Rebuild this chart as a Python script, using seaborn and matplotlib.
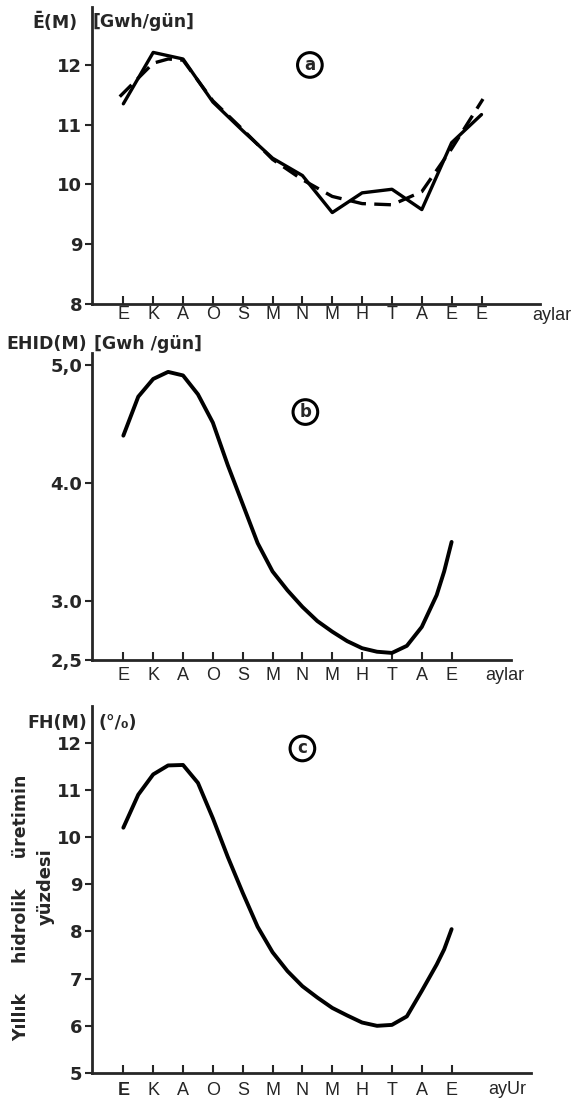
import matplotlib
matplotlib.use('Agg')
import matplotlib.pyplot as plt
import seaborn as sns
import pandas as pd

# ay harfleri (Ekim'den Ekim'e)
months_a = ['E', 'K', 'A', 'O', 'S', 'M', 'N', 'M', 'H', 'T', 'A', 'E', 'E']
months_bc = ['E', 'K', 'A', 'O', 'S', 'M', 'N', 'M', 'H', 'T', 'A', 'E']

# (a) Ē(M) - olculen (duz) ve yaklasik (kesikli)
pos_a = [1, 2, 3, 4, 5, 6, 7, 8, 9, 10, 11, 12, 13]
e_solid = [11.35, 12.21, 12.10, 11.38, 10.90, 10.44, 10.15, 9.53, 9.86, 9.92, 9.58, 10.70, 11.17]
pos_dash = [0.88, 2, 2.5, 3, 4, 5, 6, 7, 8, 9, 10, 11, 12, 13.05]
e_dash = [11.47, 12.03, 12.10, 12.08, 11.40, 10.92, 10.42, 10.08, 9.80, 9.68, 9.66, 9.88, 10.60, 11.43]

# (b) EHID(M) ve (c) FH(M), yarim ay araliklarinda okunan degerler
pos_bc = [1, 1.5, 2, 2.5, 3, 3.5, 4, 4.5, 5, 5.5, 6, 6.5, 7, 7.5, 8, 8.5,
          9, 9.5, 10, 10.5, 11, 11.5, 11.75, 12]
ehid = [4.40, 4.73, 4.88, 4.94, 4.91, 4.75, 4.51, 4.15, 3.82, 3.49, 3.25, 3.09,
        2.95, 2.83, 2.74, 2.66, 2.60, 2.57, 2.56, 2.62, 2.78, 3.05, 3.25, 3.50]
fh = [10.20, 10.90, 11.33, 11.52, 11.53, 11.15, 10.40, 9.58, 8.82, 8.10, 7.56, 7.16,
      6.84, 6.60, 6.38, 6.22, 6.07, 6.00, 6.02, 6.20, 6.74, 7.30, 7.62, 8.05]

sns.set_style('ticks')
plt.rcParams['font.family'] = ['DejaVu Sans']

fig = plt.figure(figsize=(5.71, 11.04), dpi=100)
W, H = 571, 1104
LAB = 12.5  # eksen basliklari


def make_ax(l, r, b, t):
    return fig.add_axes([l / W, 1 - b / H, (r - l) / W, (b - t) / H])


def style(ax, labels, ylim, yticks, yticklabels, xmax, xpad):
    ax.set_xlim(-0.05, xmax)
    ax.set_ylim(*ylim)
    ax.set_xticks(range(1, len(labels) + 1))
    ax.set_xticklabels(labels, fontfamily='Liberation Sans', fontsize=13)
    ax.set_yticks(yticks)
    ax.set_yticklabels(yticklabels, fontweight='bold', fontsize=13)
    ax.tick_params(axis='x', direction='in', length=6, width=1.5, pad=xpad)
    ax.tick_params(axis='y', direction='out', length=5, width=1.5, pad=2)
    sns.despine(ax=ax)
    for s in ['left', 'bottom']:
        ax.spines[s].set_linewidth(2)
    ax.set_xlabel('')
    ax.set_ylabel('')


def circ(ax, x, y, s):
    ax.text(x, y, s, ha='center', va='center', fontsize=12, fontweight='bold',
            bbox=dict(boxstyle='circle,pad=0.2', fc='white', ec='black', lw=2.2))


# ---- (a)
ax1 = make_ax(92, 540, 304, 7)
df_s = pd.DataFrame({'ay': pos_a, 'E': e_solid})
df_d = pd.DataFrame({'ay': pos_dash, 'E': e_dash})
sns.lineplot(data=df_d, x='ay', y='E', ax=ax1, color='black', lw=2.4,
             linestyle=(0, (5, 2.5)))
sns.lineplot(data=df_s, x='ay', y='E', ax=ax1, color='black', lw=2.4)
style(ax1, months_a, (8, 12.97), [8, 9, 10, 11, 12], ['8', '9', '10', '11', '12'], 14.96, 1.5)
circ(ax1, 7.25, 12.0, 'a')
fig.text(32 / W, 1 - 22 / H, 'Ē(M)', fontsize=LAB, fontweight='bold', va='center')
fig.text(93 / W, 1 - 22 / H, '[Gwh/gün]', fontsize=LAB, fontweight='bold', va='center')
fig.text(552 / W, 1 - 315 / H, 'aylar', fontfamily='Liberation Sans', fontsize=13,
         ha='center', va='center')

# ---- (b)
ax2 = make_ax(92, 511, 660, 353)
df_b = pd.DataFrame({'ay': pos_bc, 'EHID': ehid})
sns.lineplot(data=df_b, x='ay', y='EHID', ax=ax2, color='black', lw=2.8)
style(ax2, months_bc, (2.5, 5.1), [2.5, 3.0, 4.0, 5.0], ['2,5', '3.0', '4.0', '5,0'], 13.99, 5)
circ(ax2, 7.1, 4.6, 'b')
fig.text(6 / W, 1 - 344 / H, 'EHID(M)', fontsize=LAB, fontweight='bold', va='center')
fig.text(94 / W, 1 - 344 / H, '[Gwh /gün]', fontsize=LAB, fontweight='bold', va='center')
fig.text(505 / W, 1 - 675 / H, 'aylar', fontfamily='Liberation Sans', fontsize=13,
         ha='center', va='center')

# ---- (c)
ax3 = make_ax(92, 531, 1073, 706)
df_c = pd.DataFrame({'ay': pos_bc, 'FH': fh})
sns.lineplot(data=df_c, x='ay', y='FH', ax=ax3, color='black', lw=2.8)
style(ax3, months_bc, (5, 12.78), [5, 6, 7, 8, 9, 10, 11, 12],
      ['5', '6', '7', '8', '9', '10', '11', '12'], 14.66, 6.5)
ax3.get_xticklabels()[0].set_fontweight('bold')
circ(ax3, 7.0, 11.88, 'c')
fig.text(27 / W, 1 - 723 / H, 'FH(M)', fontsize=LAB, fontweight='bold', va='center')
fig.text(99 / W, 1 - 723 / H, '(°/₀)', fontsize=LAB, fontweight='bold', va='center')
fig.text(507 / W, 1 - 1089 / H, 'ayUr', fontfamily='Liberation Sans', fontsize=13,
         ha='center', va='center')
fig.text(21 / W, 1 - 908 / H, 'Yıllık     hidrolik     üretimin', rotation=90,
         fontsize=12.5, fontweight='bold', ha='center', va='center')
fig.text(46 / W, 1 - 887 / H, 'yüzdesi', rotation=90,
         fontsize=13, fontweight='bold', ha='center', va='center')

fig.savefig('out.png', dpi=100)
